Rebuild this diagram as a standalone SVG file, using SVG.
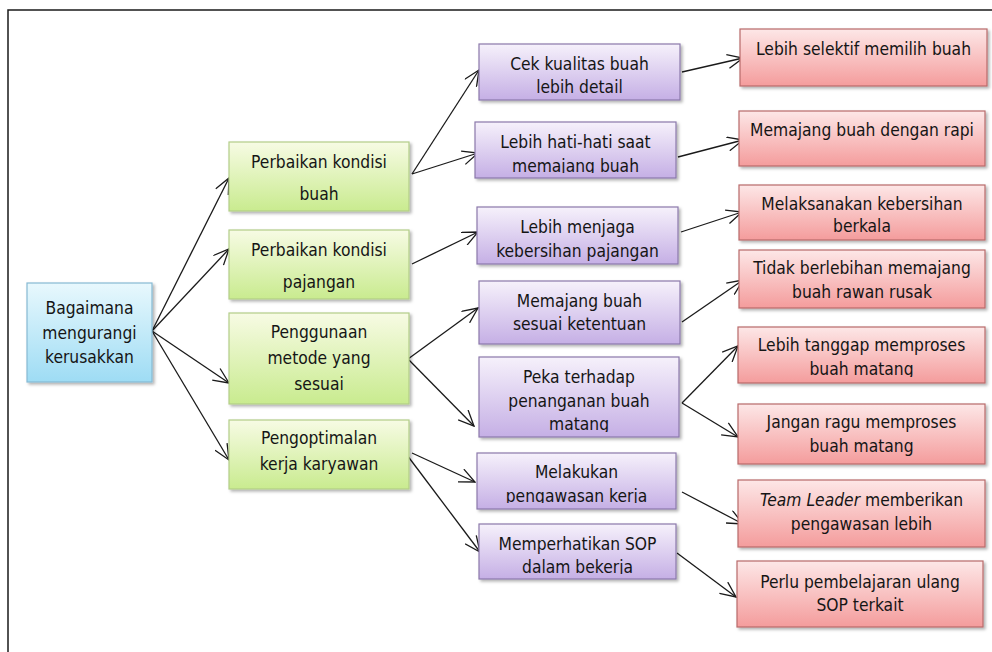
<svg xmlns="http://www.w3.org/2000/svg" width="992" height="652" viewBox="0 0 992 652">
<defs>
<style>
text{font-family:"DejaVu Sans Condensed","DejaVu Sans",sans-serif;font-stretch:condensed;font-size:17.3px;fill:#151515;text-anchor:middle}
.box{stroke-width:1.2;filter:url(#sh)}
.blue{fill:url(#gB);stroke:#86b9d3}
.green{fill:url(#gG);stroke:#b3cd88}
.purple{fill:url(#gP);stroke:#8b79ab}
.red{fill:url(#gR);stroke:#b86a6a}
.con line{stroke:#1a1a1a;stroke-width:1.3;fill:none;marker-end:url(#ah)}
</style>
<filter id="sh" x="-10%" y="-10%" width="125%" height="130%">
<feDropShadow dx="2" dy="2" stdDeviation="1.5" flood-color="#000" flood-opacity="0.3"/>
</filter>
<linearGradient id="gB" x1="0" y1="0" x2="0" y2="1"><stop offset="0" stop-color="#e8f8fd"/><stop offset="1" stop-color="#9edcf4"/></linearGradient>
<linearGradient id="gG" x1="0" y1="0" x2="0" y2="1"><stop offset="0" stop-color="#f7fbe4"/><stop offset="1" stop-color="#c9eb8f"/></linearGradient>
<linearGradient id="gP" x1="0" y1="0" x2="0" y2="1"><stop offset="0" stop-color="#f6f1fb"/><stop offset="1" stop-color="#c5afe5"/></linearGradient>
<linearGradient id="gR" x1="0" y1="0" x2="0" y2="1"><stop offset="0" stop-color="#fde7e7"/><stop offset="1" stop-color="#f49c9c"/></linearGradient>
<marker id="ah" markerUnits="userSpaceOnUse" viewBox="0 0 17 15" refX="16" refY="7.5" markerWidth="17" markerHeight="15" orient="auto">
<path d="M0.5,0.5 L16,7.5 L0.5,14.5" fill="none" stroke="#1a1a1a" stroke-width="1.3"/>
</marker>
<clipPath id="cP2"><rect x="470" y="118" width="215" height="55"/></clipPath>
<clipPath id="cP5"><rect x="470" y="353" width="215" height="79"/></clipPath>
<clipPath id="cP6"><rect x="470" y="449" width="215" height="54"/></clipPath>
<clipPath id="cP7"><rect x="470" y="520" width="215" height="54"/></clipPath>
<clipPath id="cR5"><rect x="730" y="323" width="262" height="54"/></clipPath>
</defs>
<rect x="8" y="10" width="1000" height="700" fill="#fff" stroke="#1a1a1a" stroke-width="1.5"/>

<g id="connectors" class="con">
<line x1="152" y1="331" x2="229" y2="178"/>
<line x1="152" y1="331" x2="229" y2="249"/>
<line x1="152" y1="331" x2="229" y2="383"/>
<line x1="152" y1="331" x2="229" y2="460"/>
<line x1="412" y1="174" x2="479" y2="70"/>
<line x1="412" y1="174" x2="478" y2="153"/>
<line x1="412" y1="264" x2="478" y2="232"/>
<line x1="408" y1="359" x2="478" y2="308"/>
<line x1="408" y1="359" x2="474" y2="426"/>
<line x1="412" y1="453" x2="475" y2="482"/>
<line x1="407" y1="455" x2="480" y2="552"/>
<line x1="682" y1="72" x2="743" y2="58"/>
<line x1="678" y1="157" x2="743" y2="140"/>
<line x1="681" y1="232" x2="742" y2="212"/>
<line x1="682" y1="322" x2="743" y2="280"/>
<line x1="682" y1="403" x2="738" y2="346"/>
<line x1="682" y1="403" x2="738" y2="437"/>
<line x1="682" y1="492" x2="743" y2="524"/>
<line x1="677" y1="553" x2="736" y2="597"/>
</g>

<g id="root">
<rect class="box blue" x="27" y="283" width="125" height="99"/>
<text x="89.5" y="314">Bagaimana</text>
<text x="89.5" y="338.5">mengurangi</text>
<text x="89.5" y="363">kerusakkan</text>
</g>

<g id="g1">
<rect class="box green" x="229" y="142" width="180" height="69"/>
<text x="319" y="168">Perbaikan kondisi</text>
<text x="319" y="200">buah</text>
</g>
<g id="g2">
<rect class="box green" x="229" y="230" width="180" height="69"/>
<text x="319" y="256">Perbaikan kondisi</text>
<text x="319" y="288">pajangan</text>
</g>
<g id="g3">
<rect class="box green" x="229" y="313" width="180" height="91"/>
<text x="319" y="338">Penggunaan</text>
<text x="319" y="364">metode yang</text>
<text x="319" y="390">sesuai</text>
</g>
<g id="g4">
<rect class="box green" x="229" y="420" width="180" height="69"/>
<text x="319" y="444">Pengoptimalan</text>
<text x="319" y="470">kerja karyawan</text>
</g>

<g id="p1">
<rect class="box purple" x="479" y="44" width="201" height="56"/>
<text x="579.5" y="70">Cek kualitas buah</text>
<text x="579.5" y="93">lebih detail</text>
</g>
<g id="p2">
<rect class="box purple" x="475" y="122" width="201" height="56"/>
<g clip-path="url(#cP2)">
<text x="575.5" y="148">Lebih hati-hati saat</text>
<text x="575.5" y="172">memajang buah</text>
</g>
</g>
<g id="p3">
<rect class="box purple" x="477" y="207" width="201" height="57"/>
<text x="577.5" y="233">Lebih menjaga</text>
<text x="577.5" y="257">kebersihan pajangan</text>
</g>
<g id="p4">
<rect class="box purple" x="479" y="281" width="201" height="63"/>
<text x="579.5" y="307">Memajang buah</text>
<text x="579.5" y="330">sesuai ketentuan</text>
</g>
<g id="p5">
<rect class="box purple" x="479" y="357" width="200" height="80"/>
<g clip-path="url(#cP5)">
<text x="579" y="383">Peka terhadap</text>
<text x="579" y="407">penanganan buah</text>
<text x="579" y="430">matang</text>
</g>
</g>
<g id="p6">
<rect class="box purple" x="477" y="453" width="199" height="56"/>
<g clip-path="url(#cP6)">
<text x="576.5" y="478">Melakukan</text>
<text x="576.5" y="502">pengawasan kerja</text>
</g>
</g>
<g id="p7">
<rect class="box purple" x="479" y="524" width="197" height="55"/>
<g clip-path="url(#cP7)">
<text x="577.5" y="550">Memperhatikan SOP</text>
<text x="577.5" y="573">dalam bekerja</text>
</g>
</g>

<g id="r1">
<rect class="box red" x="740" y="29" width="247" height="57"/>
<text x="863.5" y="55">Lebih selektif memilih buah</text>
</g>
<g id="r2">
<rect class="box red" x="739" y="111" width="246" height="55"/>
<text x="862" y="136">Memajang buah dengan rapi</text>
</g>
<g id="r3">
<rect class="box red" x="739" y="185" width="246" height="55"/>
<text x="862" y="210">Melaksanakan kebersihan</text>
<text x="862" y="232">berkala</text>
</g>
<g id="r4">
<rect class="box red" x="739" y="250" width="246" height="58"/>
<text x="862" y="274">Tidak berlebihan memajang</text>
<text x="862" y="298">buah rawan rusak</text>
</g>
<g id="r5">
<rect class="box red" x="738" y="327" width="247" height="56"/>
<g clip-path="url(#cR5)">
<text x="861.5" y="351">Lebih tanggap memproses</text>
<text x="861.5" y="375">buah matang</text>
</g>
</g>
<g id="r6">
<rect class="box red" x="738" y="404" width="247" height="60"/>
<text x="861.5" y="428">Jangan ragu memproses</text>
<text x="861.5" y="452">buah matang</text>
</g>
<g id="r7">
<rect class="box red" x="738" y="480" width="247" height="67"/>
<text x="861.5" y="506"><tspan font-style="italic">Team Leader</tspan> memberikan</text>
<text x="861.5" y="530">pengawasan lebih</text>
</g>
<g id="r8">
<rect class="box red" x="737" y="561" width="246" height="66"/>
<text x="860" y="588">Perlu pembelajaran ulang</text>
<text x="860" y="611">SOP terkait</text>
</g>
</svg>
